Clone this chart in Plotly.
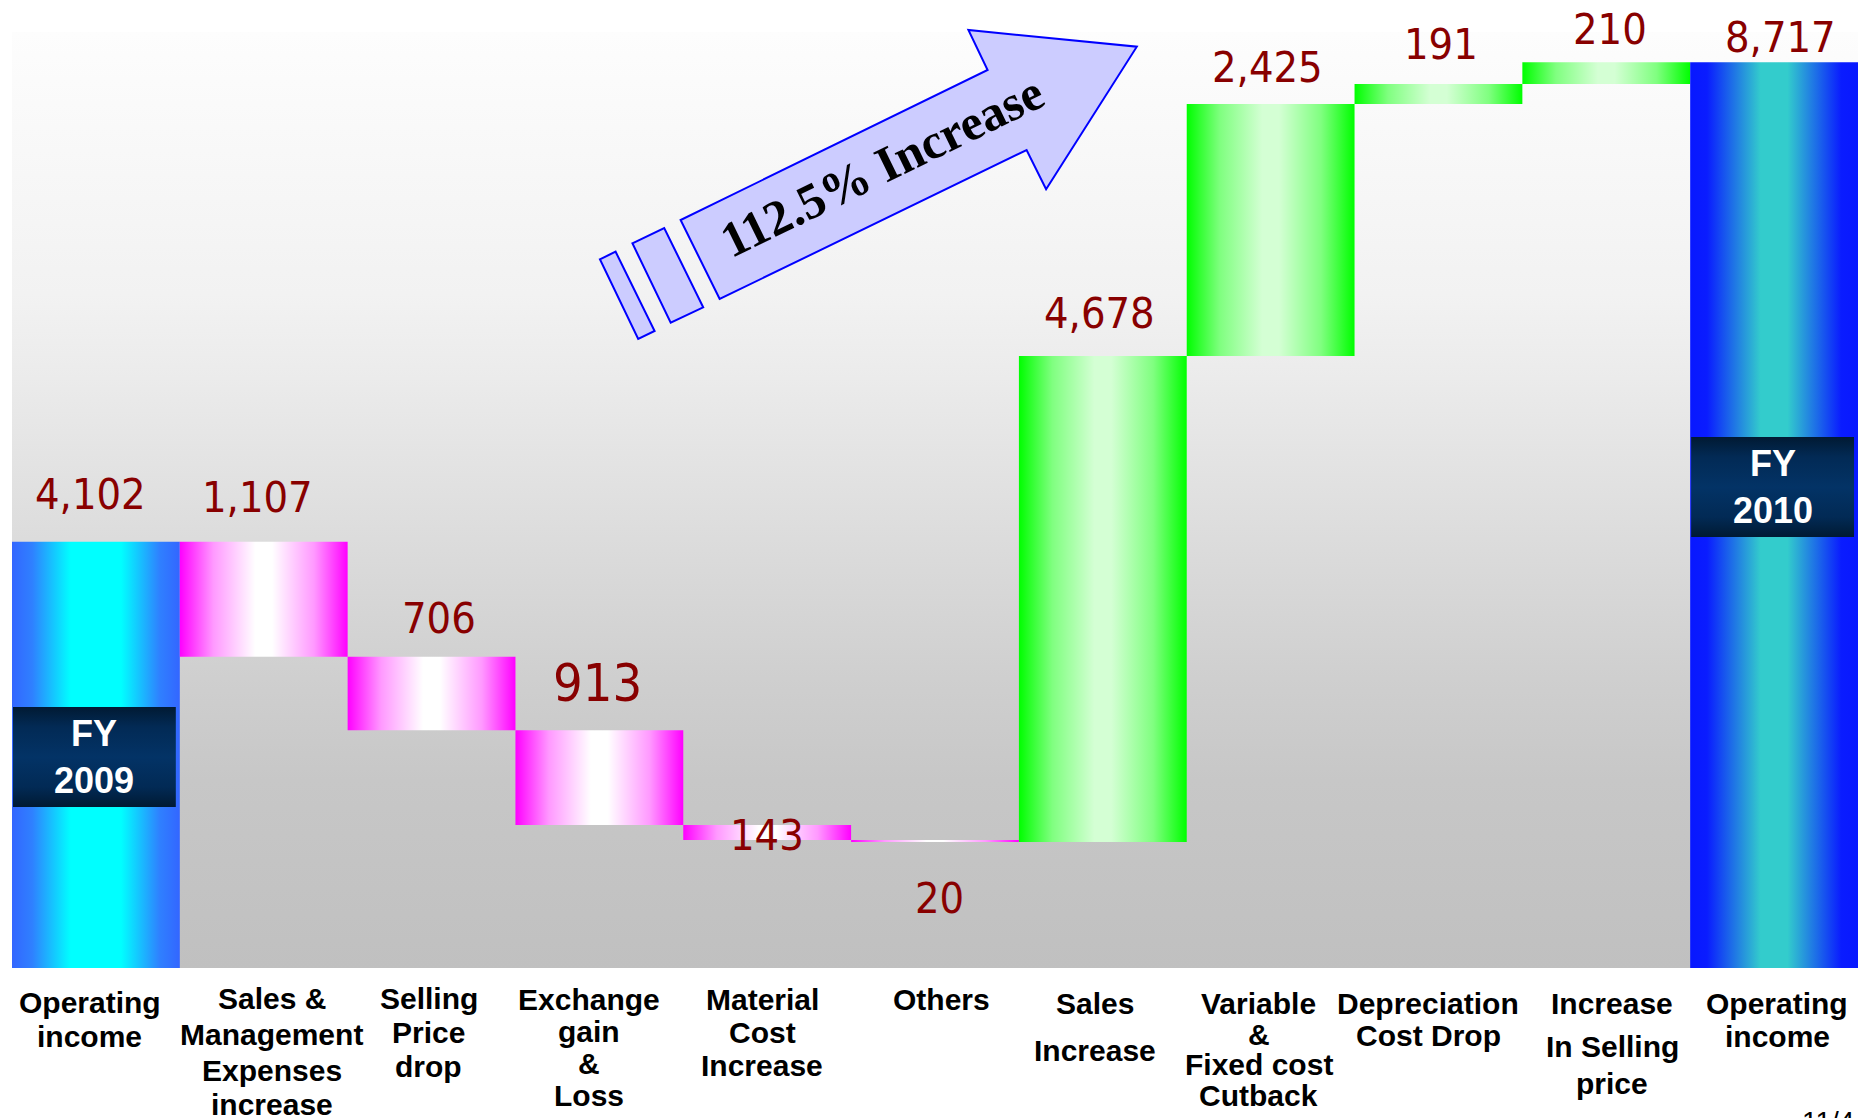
import plotly.graph_objects as go

# ---------------- data ----------------
categories = ["Operating income", "Sales & Management Expenses increase", "Selling Price drop",
              "Exchange gain & Loss", "Material Cost Increase", "Others", "Sales Increase",
              "Variable & Fixed cost Cutback", "Depreciation Cost Drop",
              "Increase In Selling price", "Operating income"]
category_lines = [["Operating", "income"],
                  ["Sales &", "Management", "Expenses", "increase"],
                  ["Selling", "Price", "drop"],
                  ["Exchange", "gain", "&", "Loss"],
                  ["Material", "Cost", "Increase"],
                  ["Others"],
                  ["Sales", "Increase"],
                  ["Variable", "&", "Fixed cost", "Cutback"],
                  ["Depreciation", "Cost Drop"],
                  ["Increase", "In Selling", "price"],
                  ["Operating", "income"]]
values = [4102, -1107, -706, -913, -143, -20, 4678, 2425, 191, 210, 8717]
measures = ["absolute"] + ["relative"] * 9 + ["total"]
value_labels = ["4,102", "1,107", "706", "913", "143", "20",
                "4,678", "2,425", "191", "210", "8,717"]
period_labels = ["FY<br>2009", "FY<br>2010"]
headline = "112.5% Increase"

# ---------------- geometry helpers (layout only) ----------------
W, H = 1858, 1118
PLOT_LEFT = 12
PLOT_RIGHT = 1858
PLOT_BOTTOM = 968
PX_PER_UNIT = 0.1039
PLOT_H = PLOT_BOTTOM
YMAX = PLOT_H / PX_PER_UNIT
N = len(values)
CAT_W = (PLOT_RIGHT - PLOT_LEFT) / N


def px_x(px):
    return (px - PLOT_LEFT) / CAT_W - 0.5


def px_y(py):
    return (PLOT_BOTTOM - py) / PX_PER_UNIT


def px_paper_y(py):
    return (PLOT_BOTTOM - py) / PLOT_H


def px_paper_x(px):
    return (px - PLOT_LEFT) / (PLOT_RIGHT - PLOT_LEFT)


# running totals -> bar extents
lo, hi, kind = [], [], []
run = 0
for v, m in zip(values, measures):
    if m == "absolute":
        lo.append(0); hi.append(v); run = v; kind.append("start")
    elif m == "total":
        lo.append(0); hi.append(run); kind.append("end")
    else:
        new = run + v
        lo.append(min(run, new)); hi.append(max(run, new))
        kind.append("up" if v > 0 else "down")
        run = new

scales = {
    "start": [[0, "#3366ff"], [0.12, "#2f80ff"], [0.35, "#00ffff"], [0.65, "#00ffff"],
              [0.88, "#2f80ff"], [1, "#3366ff"]],
    "end": [[0, "#0818ff"], [0.1, "#0a1cff"], [0.42, "#33cccc"], [0.58, "#33cccc"],
            [0.9, "#0a1cff"], [1, "#0818ff"]],
    "down": [[0, "#ff00ff"], [0.2, "#ff99ff"], [0.45, "#ffffff"], [0.55, "#ffffff"],
             [0.8, "#ff99ff"], [1, "#ff00ff"]],
    "up": [[0, "#00ff00"], [0.2, "#80ff80"], [0.45, "#d4ffd4"], [0.55, "#d4ffd4"],
           [0.8, "#80ff80"], [1, "#00ff00"]],
}

fig = go.Figure()

# plot-area background gradient
bg_top = px_y(32)
fig.add_trace(go.Scatter(
    x=[-0.5, N - 0.5, N - 0.5, -0.5, -0.5], y=[0, 0, bg_top, bg_top, 0],
    mode="lines", line=dict(width=0), fill="toself", hoverinfo="skip", showlegend=False,
    fillgradient=dict(type="vertical", start=0, stop=bg_top,
                      colorscale=[[0, "#c0c0c0"], [0.2, "#c7c7c7"], [0.31, "#cfcfcf"],
                                  [0.55, "#e4e4e4"], [0.63, "#ebebeb"], [0.72, "#f2f2f2"],
                                  [1, "#fdfdfd"]])))

# bars
for i in range(N):
    x0, x1 = i - 0.5, i + 0.5
    fig.add_trace(go.Scatter(
        x=[x0, x1, x1, x0, x0], y=[lo[i], lo[i], hi[i], hi[i], lo[i]],
        mode="lines", line=dict(width=0), fill="toself", hoverinfo="skip", showlegend=False,
        fillgradient=dict(type="horizontal", start=x0, stop=x1, colorscale=scales[kind[i]])))

# FY boxes on the two total bars
box_bars = [0, N - 1]
box_center_frac = [0.495, 0.531]
box_h = 100 / PX_PER_UNIT
for b, frac, txt in zip(box_bars, box_center_frac, period_labels):
    cy = hi[b] * frac
    x0 = b - 0.5 + 1 / CAT_W
    x1 = b + 0.5 - 4 / CAT_W
    y0, y1 = cy - box_h / 2, cy + box_h / 2
    fig.add_trace(go.Scatter(
        x=[x0, x1, x1, x0, x0], y=[y0, y0, y1, y1, y0],
        mode="lines", line=dict(width=0), fill="toself", hoverinfo="skip", showlegend=False,
        fillgradient=dict(type="vertical", start=y0, stop=y1,
                          colorscale=[[0, "#001a33"], [0.2, "#022a55"], [0.5, "#033366"],
                                      [0.8, "#022a55"], [1, "#011a33"]])))
    fig.add_annotation(x=(x0 + x1) / 2, y=cy, text=txt, showarrow=False,
                       xanchor="center", yanchor="middle",
                       font=dict(family="Liberation Sans, Arial, sans-serif", size=36,
                                 color="white", weight="bold"))

# value labels
label_side = ["top"] * 5 + ["bottom"] + ["top"] * 5
label_off = [47.8, 44.3, 39.3, 47.2, -10, -56, 42.5, 37, 40.3, 33.7, 25.7]
label_dx = [-5, -6, 7, -2, 0, 4, -3, -3, 3, 4, 6]
label_size = [43, 43, 43, 52, 43, 43, 43, 43, 43, 43, 43]
NARROW = "Liberation Sans Narrow, Arial Narrow, DejaVu Sans Condensed, sans-serif"
for i in range(N):
    yv = hi[i] if label_side[i] == "top" else lo[i]
    fig.add_annotation(x=i, y=yv, yshift=label_off[i], xshift=label_dx[i],
                       text=value_labels[i], showarrow=False,
                       xanchor="center", yanchor="middle", borderpad=0,
                       font=dict(family=NARROW, size=label_size[i], color="#880000"))

# category labels (one annotation per line, below the plot area)
line_px = [[1002, 1036],
           [998, 1034, 1070, 1104],
           [998, 1032, 1066],
           [1000, 1031, 1063, 1095],
           [1000, 1032, 1065],
           [1000],
           [1003, 1050],
           [1003, 1034, 1064, 1095],
           [1003, 1035],
           [1003, 1046, 1083],
           [1003, 1036]]
cat_dx = [-6, 8, -3, -10, -5, 6, -8, -12, -10, 6, 3]
for i, lines in enumerate(category_lines):
    for ln, py in zip(lines, line_px[i]):
        fig.add_annotation(x=i, xref="x", y=px_paper_y(py), yref="paper", xshift=cat_dx[i],
                           text=ln, showarrow=False, xanchor="center", yanchor="middle",
                           borderpad=0,
                           font=dict(family="Liberation Sans, Arial, sans-serif", size=30,
                                     color="black", weight="bold"))

# decorative arrow
arrow_px = [(719.7, 299), (680.6, 220), (987.6, 70), (968.4, 30), (1136.8, 46.7),
            (1046.1, 189.3), (1026.6, 150)]
rect_a_px = [(632.4, 243.3), (664.2, 228), (703.2, 307.3), (670.7, 322.7)]
rect_b_px = [(599.9, 259.3), (615.6, 251.7), (654.6, 331), (638.2, 339)]


def path_of(pts):
    return "M " + " L ".join(f"{px_x(a):.5f},{px_y(b):.3f}" for a, b in pts) + " Z"


for pts in (rect_b_px, rect_a_px, arrow_px):
    fig.add_shape(type="path", path=path_of(pts), xref="x", yref="y", layer="above",
                  fillcolor="#ccccff", line=dict(color="#0000ff", width=2))

fig.add_annotation(x=px_x(882), y=px_y(166), text=headline, showarrow=False,
                   textangle=-26, xanchor="center", yanchor="middle",
                   font=dict(family="Liberation Serif, Times New Roman, serif", size=50,
                             color="black", weight="bold"))

# page number (cut off at bottom edge)
fig.add_annotation(x=px_paper_x(1800), xref="paper", y=px_paper_y(1104), yref="paper",
                   text="11/4", showarrow=False, xanchor="left", yanchor="top",
                   font=dict(family="Liberation Sans, Arial, sans-serif", size=28, color="black"))

fig.update_layout(
    width=W, height=H,
    margin=dict(l=PLOT_LEFT, r=W - PLOT_RIGHT, t=0, b=H - PLOT_H, pad=0),
    paper_bgcolor="white", plot_bgcolor="white",
    xaxis=dict(range=[-0.5, N - 0.5], visible=False, fixedrange=True),
    yaxis=dict(range=[0, YMAX], visible=False, fixedrange=True),
    showlegend=False,
)

fig.write_html("out.html", include_plotlyjs=True, config={"displayModeBar": False},
               post_script="document.body.style.margin='0';"
                           "document.documentElement.style.overflow='hidden';")
